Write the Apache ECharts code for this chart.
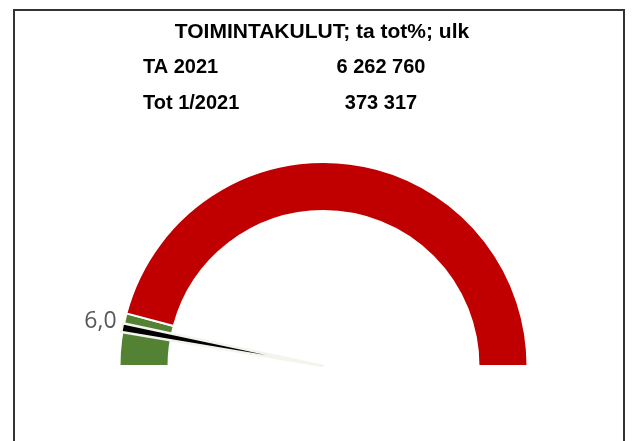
<!DOCTYPE html>
<html>
<head>
<meta charset="utf-8">
<script src="https://cdn.jsdelivr.net/npm/echarts@6/dist/echarts.min.js"></script>
<style>
  html, body { margin: 0; padding: 0; background: #fff; }
  #chart { width: 633px; height: 441px; }
</style>
</head>
<body>
<div id="chart"></div>
<script>
// otsikko ja yläosan luvut
const titleText = 'TOIMINTAKULUT; ta tot%; ulk';
const rowLabels = ['TA 2021', 'Tot 1/2021'];
const rowValues = ['6 262 760', '373 317'];

// mittarin vyöhykkeet (% asteikolla 0-100) ja osoittimen arvo
const zoneNames = ['tavoite', 'yli'];
const zoneValues = [8.3, 91.7];
const zoneColors = ['#548235', '#C00000'];
const needleValue = [6.0];

const chart = echarts.init(document.getElementById('chart'));

const cx = 323.5, cy = 366;
const font = '"Liberation Sans", Arial, sans-serif';

const textEls = [];
textEls.push({
    type: 'text', x: 322, y: 32,
    style: { text: titleText, fill: '#000', font: 'bold 21px ' + font, align: 'center', verticalAlign: 'middle' }
});
const rowY = [67, 103];
rowLabels.forEach((t, i) => {
    textEls.push({
        type: 'text', x: 143, y: rowY[i],
        style: { text: t, fill: '#000', font: 'bold 20px ' + font, align: 'left', verticalAlign: 'middle' }
    });
    textEls.push({
        type: 'text', x: 381, y: rowY[i],
        style: { text: rowValues[i], fill: '#000', font: 'bold 20px ' + font, align: 'center', verticalAlign: 'middle' }
    });
});

const option = {
    animation: false,
    backgroundColor: '#fff',
    graphic: [
        {
            type: 'rect',
            shape: { x: 14, y: 10, width: 610, height: 460 },
            style: { fill: 'none', stroke: '#333', lineWidth: 2 }
        },
        ...textEls
    ],
    series: [
        {
            type: 'pie',
            silent: true,
            z: 1,
            center: [cx, cy],
            radius: [155, 204],
            startAngle: 180,
            endAngle: 0,
            label: { show: false },
            labelLine: { show: false },
            itemStyle: { borderColor: '#fff', borderWidth: 2 },
            data: zoneValues.map((v, i) => ({
                name: zoneNames[i],
                value: v,
                itemStyle: { color: zoneColors[i] }
            }))
        },
        {
            type: 'gauge',
            z: 5,
            center: [cx, cy],
            radius: 203,
            startAngle: 180,
            endAngle: 0,
            min: 0,
            max: 100,
            axisLine: { show: false },
            splitLine: { show: false },
            axisTick: { show: false },
            axisLabel: { show: false },
            anchor: { show: false },
            title: { show: false },
            pointer: {
                icon: 'path://M0 0L10 0L5 100Z',
                length: '101%',
                width: 9,
                itemStyle: { color: '#000', borderColor: '#f4f4ee', borderWidth: 2.5 }
            },
            detail: {
                offsetCenter: [-223, -45],
                fontSize: 23,
                fontWeight: 'normal',
                fontFamily: '"Open Sans", sans-serif',
                color: '#595959',
                formatter: v => v.toFixed(1).replace('.', ',')
            },
            data: needleValue.map(v => ({ value: v }))
        }
    ]
};

chart.setOption(option);
</script>
</body>
</html>
